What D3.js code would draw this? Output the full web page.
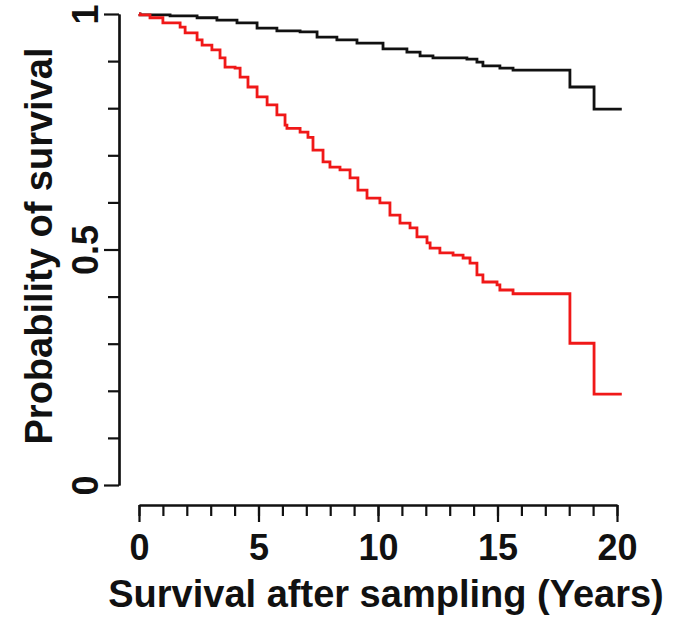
<!DOCTYPE html>
<html>
<head>
<meta charset="utf-8">
<script src="https://cdn.jsdelivr.net/npm/d3@7"></script>
<style>
  html, body { margin: 0; padding: 0; background: #fff; }
  svg { display: block; }
  text { font-family: "Liberation Sans", Arial, sans-serif; font-weight: bold; fill: #111; }
</style>
</head>
<body>
<svg id="chart" width="677" height="620"></svg>
<script>
// Kaplan-Meier step data (time in years, survival probability)
const blackTimes = [0, 0.04, 1.30, 2.43, 3.26, 4.10, 4.94, 5.77, 6.74, 7.45, 8.28, 9.12, 10.21, 11.21, 11.76, 12.30, 13.72, 14.14, 14.39, 15.10, 15.65, 18.03, 19.04, 20.2];
const blackSurv  = [1.0, 0.998, 0.996, 0.992, 0.987, 0.981, 0.970, 0.964, 0.962, 0.951, 0.945, 0.938, 0.926, 0.919, 0.911, 0.907, 0.904, 0.898, 0.890, 0.885, 0.881, 0.845, 0.798, 0.798];

const redTimes = [0, 0.04, 0.46, 1.00, 1.72, 1.93, 2.43, 2.64, 3.05, 3.39, 3.60, 4.02, 4.23, 4.56, 4.94, 5.36, 5.77, 6.11, 6.19, 6.74, 7.07, 7.28, 7.70, 7.99, 8.41, 8.83, 9.16, 9.54, 10.08, 10.50, 10.92, 11.34, 11.63, 12.05, 12.18, 12.59, 13.14, 13.56, 13.85, 14.14, 14.39, 14.98, 15.10, 15.65, 18.03, 19.04, 20.2];
const redSurv  = [1.0, 0.998, 0.992, 0.981, 0.972, 0.960, 0.945, 0.934, 0.924, 0.907, 0.887, 0.885, 0.866, 0.845, 0.824, 0.807, 0.786, 0.764, 0.757, 0.749, 0.738, 0.711, 0.686, 0.675, 0.669, 0.652, 0.626, 0.609, 0.599, 0.573, 0.556, 0.546, 0.527, 0.514, 0.503, 0.493, 0.488, 0.482, 0.471, 0.446, 0.431, 0.425, 0.414, 0.406, 0.301, 0.193, 0.193];

const xMajorTicks = [0, 5, 10, 15, 20];
const xMinorTicks = d3.range(0, 21, 1);
const yMajorTicks = [0, 0.5, 1];
const yMinorTicks = [0.1, 0.2, 0.3, 0.4, 0.6, 0.7, 0.8, 0.9];
const xTitle = "Survival after sampling (Years)";
const yTitle = "Probability of survival";

const svg = d3.select("#chart");
const x = d3.scaleLinear().domain([0, 20]).range([139, 617]);
const y = d3.scaleLinear().domain([0, 1]).range([485, 14]);

const axisStroke = 2.2;

// X axis
const xAxisY = 505;
const gxMinor = svg.append("g").attr("transform", `translate(0,${xAxisY})`)
  .call(d3.axisBottom(x).tickValues(xMinorTicks).tickSize(11).tickSizeOuter(0).tickFormat(""));
const gxMajor = svg.append("g").attr("transform", `translate(0,${xAxisY})`)
  .call(d3.axisBottom(x).tickValues(xMajorTicks).tickSize(17).tickSizeOuter(0).tickFormat(d3.format("d")));
[gxMinor, gxMajor].forEach(g => {
  g.selectAll("path, line").attr("stroke", "#111").attr("stroke-width", axisStroke);
});
gxMajor.selectAll("text").attr("y", 55).attr("dy", 0).style("font-size", "36px")
  .style("font-family", "'Liberation Sans', Arial, sans-serif").attr("fill", "#111");

// Y axis
const yAxisX = 119;
const gyMinor = svg.append("g").attr("transform", `translate(${yAxisX},0)`)
  .call(d3.axisLeft(y).tickValues(yMinorTicks).tickSize(11).tickSizeOuter(0).tickFormat(""));
const gyMajor = svg.append("g").attr("transform", `translate(${yAxisX},0)`)
  .call(d3.axisLeft(y).tickValues(yMajorTicks).tickSize(15).tickSizeOuter(0).tickFormat(d => d3.format("~g")(d)));
[gyMinor, gyMajor].forEach(g => {
  g.selectAll("path, line").attr("stroke", "#111").attr("stroke-width", axisStroke);
});
gyMajor.selectAll("text")
  .attr("x", null).attr("dy", 0).attr("y", 0)
  .attr("text-anchor", "middle")
  .attr("transform", "translate(-21,0) rotate(-90)")
  .style("font-size", "36px")
  .style("font-family", "'Liberation Sans', Arial, sans-serif").attr("fill", "#111");

// Titles
svg.append("text")
  .attr("x", 386).attr("y", 607)
  .attr("text-anchor", "middle")
  .style("font-size", "38px")
  .text(xTitle);
svg.append("text")
  .attr("transform", `translate(52,246) rotate(-90)`)
  .attr("text-anchor", "middle")
  .style("font-size", "38px")
  .text(yTitle);

// Curves
const line = d3.line().x(d => x(d[0])).y(d => y(d[1])).curve(d3.curveStepAfter);
const blackData = blackTimes.map((t, i) => [t, blackSurv[i]]);
const redData = redTimes.map((t, i) => [t, redSurv[i]]);

svg.append("path").datum(blackData)
  .attr("d", line).attr("fill", "none").attr("stroke", "#111").attr("stroke-width", 2.8);
svg.append("path").datum(redData)
  .attr("d", line).attr("fill", "none").attr("stroke", "#f01818").attr("stroke-width", 2.8);
</script>
</body>
</html>
